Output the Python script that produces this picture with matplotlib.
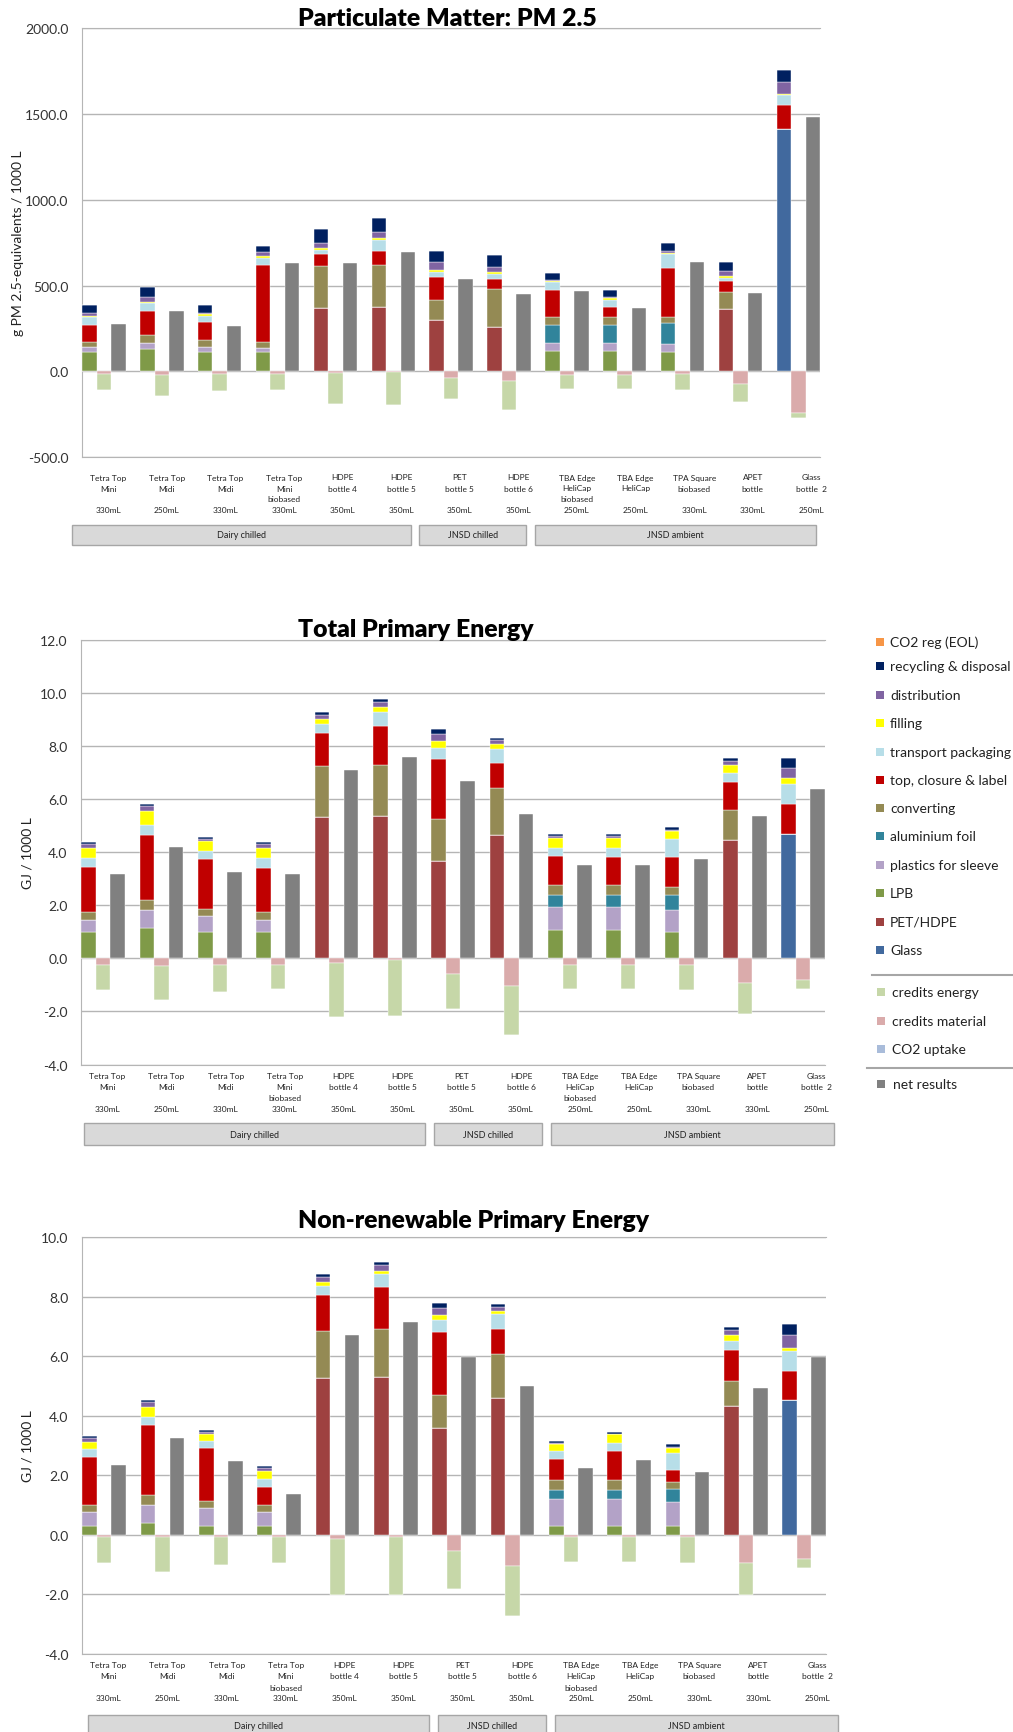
import matplotlib
matplotlib.use("Agg")
import matplotlib.pyplot as plt
from matplotlib.patches import Rectangle
import numpy as np

plt.rcParams['font.family'] = ['Lato', 'DejaVu Sans']

W, H = 1013, 1733

# ---- categories ----
names = ["Tetra Top\nMini\n", "Tetra Top\nMidi\n", "Tetra Top\nMidi\n", "Tetra Top\nMini\nbiobased",
         "HDPE\nbottle 4\n", "HDPE\nbottle 5\n", "PET\nbottle 5\n", "HDPE\nbottle 6\n",
         "TBA Edge\nHeliCap\nbiobased", "TBA Edge\nHeliCap\n", "TPA Square\nbiobased\n",
         "APET\nbottle\n", "Glass\nbottle  2\n"]
volumes = ["330mL", "250mL", "330mL", "330mL", "350mL", "350mL", "350mL", "350mL",
           "250mL", "250mL", "330mL", "330mL", "250mL"]
segments = ["Dairy chilled", "JNSD chilled", "JNSD ambient"]
segment_first = [0, 6, 8]
segment_last = [5, 7, 12]

# stack order, bottom to top
components = ["Glass", "PET/HDPE", "LPB", "plastics for sleeve", "aluminium foil", "converting",
              "top, closure & label", "transport packaging", "filling", "distribution",
              "recycling & disposal", "CO2 reg (EOL)"]
comp_colors = ["#41699E", "#9E4140", "#7F9A48", "#B3A2C7", "#31849B", "#948A54",
               "#C00000", "#B7DEE8", "#FFFF00", "#8064A2", "#002060", "#F79646"]
credit_names = ["credits material", "credits energy", "CO2 uptake"]   # stacked down from 0
credit_colors = ["#DAABAB", "#C6D7A8", "#A9BCDA"]
net_color = "#808080"

# ---- Particulate Matter PM 2.5 ----
pm_glass = [0, 0, 0, 0, 0, 0, 0, 0, 0, 0, 0, 0, 1413]
pm_pet = [0, 0, 0, 0, 369, 375, 301, 259, 0, 0, 0, 364, 0]
pm_lpb = [115, 130, 115, 115, 0, 0, 0, 0, 117, 117, 111, 0, 0]
pm_sleeve = [25, 35, 29, 23, 0, 0, 0, 0, 48, 48, 48, 0, 0]
pm_alu = [0, 0, 0, 0, 0, 0, 0, 0, 103, 103, 123, 0, 0]
pm_conv = [33, 47, 39, 35, 247, 245, 115, 223, 47, 47, 37, 97, 0]
pm_top = [99, 142, 107, 449, 70, 84, 136, 56, 159, 60, 282, 66, 142]
pm_transp = [43, 44, 35, 41, 22, 64, 29, 30, 45, 41, 83, 17, 58]
pm_fill = [6, 8, 9, 12, 13, 8, 12, 13, 8, 12, 8, 14, 4]
pm_distr = [19, 29, 8, 21, 29, 39, 45, 29, 6, 4, 8, 27, 68]
pm_recyc = [45, 57, 43, 37, 78, 81, 64, 67, 40, 42, 46, 53, 70]
pm_co2reg = [0] * 13
pm_cred_mat = [-16, -19, -16, -16, -8, -4, -39, -56, -19, -19, -16, -74, -243]
pm_cred_en = [-91, -123, -101, -91, -184, -192, -122, -171, -84, -84, -91, -107, -29]
pm_co2up = [0] * 13
pm_net = [276, 350, 266, 630, 630, 698, 538, 453, 470, 367, 638, 457, 1483]

# ---- Total Primary Energy ----
tpe_glass = [0, 0, 0, 0, 0, 0, 0, 0, 0, 0, 0, 0, 4.70]
tpe_pet = [0, 0, 0, 0, 5.32, 5.35, 3.67, 4.64, 0, 0, 0, 4.44, 0]
tpe_lpb = [0.99, 1.13, 0.99, 0.99, 0, 0, 0, 0, 1.06, 1.06, 1.01, 0, 0]
tpe_sleeve = [0.44, 0.68, 0.59, 0.44, 0, 0, 0, 0, 0.86, 0.86, 0.81, 0, 0]
tpe_alu = [0, 0, 0, 0, 0, 0, 0, 0, 0.45, 0.45, 0.55, 0, 0]
tpe_conv = [0.32, 0.38, 0.28, 0.32, 1.93, 1.93, 1.58, 1.76, 0.38, 0.38, 0.31, 1.13, 0]
tpe_top = [1.70, 2.46, 1.90, 1.67, 1.22, 1.48, 2.25, 0.96, 1.10, 1.07, 1.14, 1.08, 1.10]
tpe_transp = [0.32, 0.37, 0.28, 0.35, 0.36, 0.50, 0.44, 0.53, 0.29, 0.32, 0.67, 0.34, 0.75]
tpe_fill = [0.39, 0.53, 0.39, 0.39, 0.19, 0.19, 0.25, 0.17, 0.41, 0.41, 0.30, 0.29, 0.23]
tpe_distr = [0.13, 0.17, 0.06, 0.13, 0.15, 0.20, 0.25, 0.17, 0.04, 0.04, 0.05, 0.14, 0.38]
tpe_recyc = [0.09, 0.08, 0.08, 0.09, 0.11, 0.12, 0.20, 0.07, 0.08, 0.08, 0.09, 0.12, 0.40]
tpe_co2reg = [0] * 13
tpe_cred_mat = [-0.25, -0.29, -0.25, -0.25, -0.16, -0.08, -0.57, -1.04, -0.25, -0.25, -0.25, -0.94, -0.83]
tpe_cred_en = [-0.95, -1.26, -1.02, -0.92, -2.04, -2.10, -1.35, -1.83, -0.92, -0.92, -0.95, -1.17, -0.34]
tpe_co2up = [0] * 13
tpe_net = [3.17, 4.20, 3.27, 3.17, 7.08, 7.59, 6.69, 5.42, 3.50, 3.50, 3.74, 5.37, 6.38]

# ---- Non-renewable Primary Energy ----
nre_glass = [0, 0, 0, 0, 0, 0, 0, 0, 0, 0, 0, 0, 4.54]
nre_pet = [0, 0, 0, 0, 5.26, 5.30, 3.60, 4.59, 0, 0, 0, 4.32, 0]
nre_lpb = [0.31, 0.38, 0.31, 0.31, 0, 0, 0, 0, 0.31, 0.31, 0.31, 0, 0]
nre_sleeve = [0.45, 0.63, 0.58, 0.45, 0, 0, 0, 0, 0.88, 0.88, 0.80, 0, 0]
nre_alu = [0, 0, 0, 0, 0, 0, 0, 0, 0.32, 0.32, 0.44, 0, 0]
nre_conv = [0.25, 0.33, 0.24, 0.25, 1.60, 1.61, 1.11, 1.49, 0.34, 0.34, 0.23, 0.84, 0]
nre_top = [1.62, 2.35, 1.80, 0.61, 1.20, 1.42, 2.12, 0.83, 0.71, 0.98, 0.41, 1.04, 0.97]
nre_transp = [0.26, 0.28, 0.22, 0.26, 0.31, 0.42, 0.40, 0.50, 0.25, 0.26, 0.55, 0.33, 0.67]
nre_fill = [0.23, 0.33, 0.25, 0.25, 0.12, 0.11, 0.15, 0.12, 0.23, 0.28, 0.18, 0.19, 0.11]
nre_distr = [0.13, 0.17, 0.06, 0.11, 0.17, 0.22, 0.24, 0.14, 0.06, 0.03, 0.04, 0.16, 0.42]
nre_recyc = [0.07, 0.07, 0.05, 0.06, 0.09, 0.09, 0.18, 0.08, 0.05, 0.06, 0.08, 0.10, 0.37]
nre_co2reg = [0] * 13
nre_cred_mat = [-0.06, -0.08, -0.06, -0.06, -0.16, -0.07, -0.55, -1.05, -0.07, -0.07, -0.07, -0.95, -0.83]
nre_cred_en = [-0.88, -1.18, -0.96, -0.88, -1.85, -1.95, -1.29, -1.69, -0.85, -0.85, -0.87, -1.08, -0.29]
nre_co2up = [0] * 13
nre_net = [2.36, 3.24, 2.47, 1.36, 6.71, 7.15, 5.96, 5.00, 2.23, 2.52, 2.10, 4.94, 5.97]

charts = [
    dict(title="Particulate Matter: PM 2.5", ylabel="g PM 2.5-equivalents / 1000 L",
         stack=[pm_glass, pm_pet, pm_lpb, pm_sleeve, pm_alu, pm_conv, pm_top, pm_transp,
                pm_fill, pm_distr, pm_recyc, pm_co2reg],
         credits=[pm_cred_mat, pm_cred_en, pm_co2up], net=pm_net,
         ylim=(-500, 2000), step=500,
         box=(82.3, 29.3, 820, 458), title_y=19, ylab_x=18,
         lines=(20, 31, 42, 53), seg_box=(68, 88), shift=-0.9),
    dict(title="Total Primary Energy", ylabel="GJ / 1000 L",
         stack=[tpe_glass, tpe_pet, tpe_lpb, tpe_sleeve, tpe_alu, tpe_conv, tpe_top, tpe_transp,
                tpe_fill, tpe_distr, tpe_recyc, tpe_co2reg],
         credits=[tpe_cred_mat, tpe_cred_en, tpe_co2up], net=tpe_net,
         ylim=(-4, 12), step=2,
         box=(81.3, 640.7, 825, 1065.6), title_y=630, ylab_x=27,
         lines=(10.5, 21.5, 33, 43.5), seg_box=(58.5, 80.5), shift=0.0),
    dict(title="Non-renewable Primary Energy", ylabel="GJ / 1000 L",
         stack=[nre_glass, nre_pet, nre_lpb, nre_sleeve, nre_alu, nre_conv, nre_top, nre_transp,
                nre_fill, nre_distr, nre_recyc, nre_co2reg],
         credits=[nre_cred_mat, nre_cred_en, nre_co2up], net=nre_net,
         ylim=(-4, 10), step=2,
         box=(82.3, 1238.3, 826, 1654.7), title_y=1221, ylab_x=28,
         lines=(11.3, 22.3, 34, 44.3), seg_box=(61.3, 83), shift=0.2),
]

fig = plt.figure(figsize=(W / 100, H / 100), dpi=100, facecolor="white")


def fx(px):
    return px / W


def fy(py):
    return 1 - py / H


grid_col = "#B5B5B5"
n = len(names)
xs = np.arange(n) * 4

for ch in charts:
    l, t, r, b = ch["box"]
    ax = fig.add_axes([fx(l), fy(b), (r - l) / W, (b - t) / H])

    bottom = np.zeros(n)
    for vals, col in zip(ch["stack"], comp_colors):
        v = np.array(vals, dtype=float)
        ax.bar(xs, v, 1.0, bottom=bottom, color=col, edgecolor="white", linewidth=0.3, zorder=3)
        bottom += v
    bottom = np.zeros(n)
    for vals, col in zip(ch["credits"], credit_colors):
        v = np.array(vals, dtype=float)
        ax.bar(xs + 1, v, 1.0, bottom=bottom, color=col, edgecolor="white", linewidth=0.3, zorder=3)
        bottom += v
    ax.bar(xs + 2, ch["net"], 1.0, color=net_color, edgecolor="white", linewidth=0.3, zorder=3)

    lo, hi = ch["ylim"]
    ax.set_ylim(lo, hi)
    ax.set_xlim(-0.5, 4 * (n - 1) + 2.5)
    ticks = np.arange(lo, hi + ch["step"] / 2, ch["step"])
    ax.set_yticks(ticks)
    ax.set_yticklabels([f"{v:.1f}" for v in ticks], fontsize=10, color="#333333")
    ax.set_xticks([])
    ax.tick_params(axis="y", length=0, pad=10)
    ax.yaxis.grid(True, color=grid_col, linewidth=1.0)
    ax.set_axisbelow(True)
    for side in ["top", "bottom", "left"]:
        ax.spines[side].set_color(grid_col)
    ax.spines["right"].set_visible(False)

    fig.text(fx(298), fy(ch["title_y"]), ch["title"], ha="left", va="center",
             fontsize=17.8, fontweight="heavy", color="black")
    fig.text(fx(ch["ylab_x"]), fy((t + b) / 2), ch["ylabel"], rotation=90,
             ha="center", va="center", fontsize=10, color="#222222")

    slot = (r - l) / (4 * (n - 1) + 3)

    def sx(s):
        return l + (s + 0.5) * slot

    # category labels under the axis
    for g in range(n):
        cx = sx(1.3 + 4.05 * g)
        for k, line in enumerate(names[g].split("\n")):
            if line:
                fig.text(fx(cx), fy(b + ch["lines"][k]), line, ha="center", va="center",
                         fontsize=6, color="#222222")
        fig.text(fx(cx), fy(b + ch["lines"][3]), volumes[g], ha="center", va="center",
                 fontsize=6, color="#222222")

    # segment boxes
    y0, y1 = ch["seg_box"]
    for name, gf, gl in zip(segments, segment_first, segment_last):
        x0 = sx(4 * gf - 0.3 + ch["shift"])
        x1 = sx(4 * gl + 3.1 + ch["shift"])
        fig.patches.append(Rectangle((fx(x0), fy(b + y1)), (x1 - x0) / W, (y1 - y0) / H,
                                     transform=fig.transFigure, facecolor="#D9D9D9",
                                     edgecolor="#A6A6A6", linewidth=1.0))
        fig.text(fx((x0 + x1) / 2), fy(b + (y0 + y1) / 2), name, ha="center", va="center",
                 fontsize=6.5, color="#222222")

# ---- legend on the right ----
leg_y = [642.7, 666.7, 696, 724, 752.7, 781, 809, 837, 866, 894, 922.7, 951]
leg_names = components[::-1]
leg_cols = comp_colors[::-1]


def legend_item(y, name, col, sq_x, tx_x):
    fig.patches.append(Rectangle((fx(sq_x), fy(y + 4)), 8 / W, 8 / H, transform=fig.transFigure,
                                 facecolor=col, edgecolor="none"))
    fig.text(fx(tx_x), fy(y), name, ha="left", va="center", fontsize=10, color="#222222")


for y, name, col in zip(leg_y, leg_names, leg_cols):
    legend_item(y, name, col, 876, 890)

fig.add_artist(plt.Line2D([fx(872), fx(1013)], [fy(975.7), fy(975.7)], color="#A6A6A6", lw=1.5))
cred_leg_y = [993, 1021.7, 1050]
cred_leg = [("credits energy", credit_colors[1]), ("credits material", credit_colors[0]),
            ("CO2 uptake", credit_colors[2])]
for y, (name, col) in zip(cred_leg_y, cred_leg):
    legend_item(y, name, col, 877, 891.5)
fig.add_artist(plt.Line2D([fx(867), fx(1013)], [fy(1069), fy(1069)], color="#A6A6A6", lw=1.5))
legend_item(1085, "net results", net_color, 877, 892.5)

fig.savefig("out.png", dpi=100, facecolor="white")
